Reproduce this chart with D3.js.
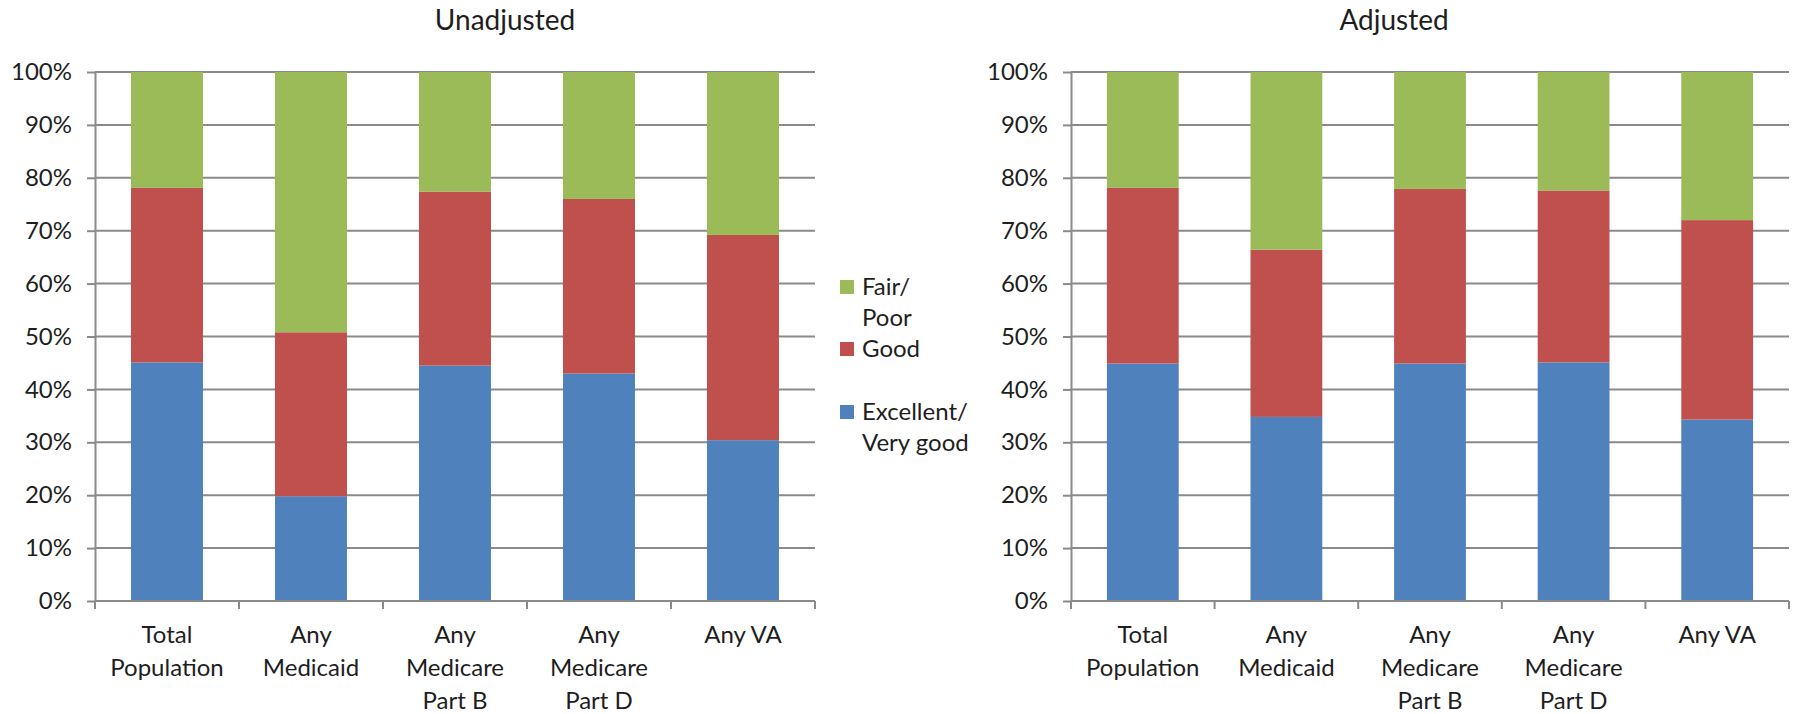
<!DOCTYPE html>
<html>
<head>
<meta charset="utf-8">
<script src="https://cdn.jsdelivr.net/npm/d3@7"></script>
<style>
  html, body { margin: 0; padding: 0; background: #fff; }
  svg { display: block; font-family: Lato, "Open Sans", sans-serif; }
</style>
</head>
<body>
<svg id="chart" width="1798" height="714"></svg>
<script>
// ---- Data ----
const categories = ["Total Population", "Any Medicaid", "Any Medicare Part B", "Any Medicare Part D", "Any VA"];
const categoryLines = [["Total", "Population"], ["Any", "Medicaid"], ["Any", "Medicare", "Part B"], ["Any", "Medicare", "Part D"], ["Any VA"]];
const seriesNames = ["Excellent/ Very good", "Good", "Fair/ Poor"];
const seriesColors = ["#4F81BD", "#C0504D", "#9BBB59"];

// Unadjusted (% of each category)
const unadjExcellent = [45.1, 19.8, 44.5, 43.0, 30.4];
const unadjGood      = [33.0, 31.0, 32.9, 33.0, 38.8];
const unadjFairPoor  = [21.9, 49.2, 22.6, 24.0, 30.8];

// Adjusted (% of each category)
const adjExcellent = [44.9, 34.8, 44.9, 45.1, 34.3];
const adjGood      = [33.2, 31.6, 33.0, 32.5, 37.7];
const adjFairPoor  = [21.9, 33.6, 22.1, 22.4, 28.0];

const yTicks = [0, 10, 20, 30, 40, 50, 60, 70, 80, 90, 100];
const titles = ["Unadjusted", "Adjusted"];

const legendItems = [
  { lines: ["Fair/", "Poor"], color: seriesColors[2] },
  { lines: ["Good"], color: seriesColors[1] },
  { lines: ["Excellent/", "Very good"], color: seriesColors[0] }
];

// ---- Drawing ----
const svg = d3.select("#chart");
const gridColor = "#8a8a8a";
const textColor = "#1e1e1e";

function buildRows(ex, gd, fp) {
  return categories.map((c, i) => ({ cat: c, ex: ex[i], gd: gd[i], fp: fp[i] }));
}

function drawPanel(opts) {
  const { x0, x1, y0, y1, rows, title, titleX } = opts;
  const g = svg.append("g");

  const x = d3.scaleBand().domain(categories).range([x0, x1]).paddingInner(0.5).paddingOuter(0.25);
  const y = d3.scaleLinear().domain([0, 100]).range([y1, y0]);
  const step = x.step();

  // gridlines
  g.append("g").selectAll("line").data(yTicks.filter(d => d > 0)).join("line")
    .attr("x1", x0).attr("x2", x1)
    .attr("y1", d => y(d)).attr("y2", d => y(d))
    .attr("stroke", gridColor).attr("stroke-width", 2);

  // stacked bars
  const stack = d3.stack().keys(["ex", "gd", "fp"]);
  const stacked = stack(rows);
  g.append("g").selectAll("g").data(stacked).join("g")
    .attr("fill", (d, i) => seriesColors[i])
    .selectAll("rect").data(d => d).join("rect")
      .attr("x", d => x(d.data.cat))
      .attr("width", x.bandwidth())
      .attr("y", d => y(d[1]))
      .attr("height", d => y(d[0]) - y(d[1]));

  // y axis
  const yAxis = d3.axisLeft(y).tickValues(yTicks).tickFormat(d => d + "%").tickSize(8).tickSizeOuter(0).tickPadding(15);
  const ya = g.append("g").attr("transform", `translate(${x0},0)`).call(yAxis);
  ya.select(".domain").attr("stroke", gridColor).attr("stroke-width", 2);
  ya.selectAll(".tick line").attr("stroke", gridColor).attr("stroke-width", 2);
  ya.selectAll(".tick text").attr("fill", textColor).style("font-size", "24px").style("font-family", "Lato, sans-serif");

  // x axis baseline
  g.append("line").attr("x1", x0).attr("x2", x1).attr("y1", y1).attr("y2", y1)
    .attr("stroke", gridColor).attr("stroke-width", 2);
  // category boundary ticks
  const bounds = d3.range(categories.length + 1).map(i => x0 + i * step);
  g.append("g").selectAll("line").data(bounds).join("line")
    .attr("x1", d => d).attr("x2", d => d).attr("y1", y1).attr("y2", y1 + 8)
    .attr("stroke", gridColor).attr("stroke-width", 2);

  // category labels
  const lab = g.append("g").selectAll("text").data(categories).join("text")
    .attr("text-anchor", "middle")
    .attr("fill", textColor)
    .style("font-size", "24px");
  lab.each(function(d, i) {
    const t = d3.select(this);
    categoryLines[i].forEach((ln, k) => {
      t.append("tspan").attr("x", x(d) + x.bandwidth() / 2).attr("y", y1 + 42 + k * 33).text(ln);
    });
  });

  // title
  svg.append("text").attr("x", titleX).attr("y", 30).attr("text-anchor", "middle")
    .attr("fill", textColor).style("font-size", "28px").text(title);
}

drawPanel({ x0: 95, x1: 815, y0: 72, y1: 601, rows: buildRows(unadjExcellent, unadjGood, unadjFairPoor), title: titles[0], titleX: 505 });
drawPanel({ x0: 1071, x1: 1789, y0: 72, y1: 601, rows: buildRows(adjExcellent, adjGood, adjFairPoor), title: titles[1], titleX: 1394 });

// legend
const legendTop = [280, 342, 405];
const lg = svg.append("g");
legendItems.forEach((item, i) => {
  lg.append("rect").attr("x", 840).attr("y", legendTop[i]).attr("width", 14).attr("height", 14).attr("fill", item.color);
  const t = lg.append("text").attr("fill", textColor).style("font-size", "24px");
  item.lines.forEach((ln, k) => {
    t.append("tspan").attr("x", 862).attr("y", legendTop[i] + 15 + k * 31).text(ln);
  });
});
</script>
</body>
</html>
